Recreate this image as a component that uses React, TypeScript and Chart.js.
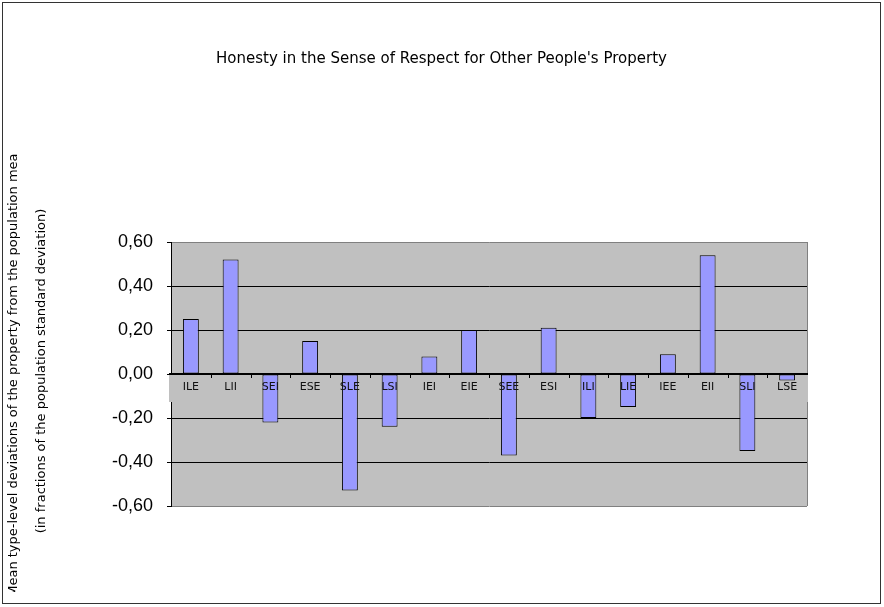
import React from "react";
import { Chart, ChartConfiguration, Plugin, registerables } from "chart.js";

Chart.register(...registerables);

const categories = [
  "ILE", "LII", "SEI", "ESE", "SLE", "LSI", "IEI", "EIE",
  "SEE", "ESI", "ILI", "LIE", "IEE", "EII", "SLI", "LSE",
];
const deviations = [
  0.25, 0.52, -0.22, 0.15, -0.53, -0.24, 0.08, 0.2,
  -0.37, 0.21, -0.2, -0.15, 0.09, 0.54, -0.35, -0.03,
];
const yTicks = [-0.6, -0.4, -0.2, 0, 0.2, 0.4, 0.6];

const chartTitle = "Honesty in the Sense of Respect for Other People's Property";
const yTitleLines = [
  "Mean type-level deviations of the property from the population mean",
  "(in fractions of the population standard deviation)",
];

const PLOT_BG = "#c0c0c0";
const FONT = '"DejaVu Sans", sans-serif';

const decorPlugin: Plugin<"bar"> = {
  id: "decor",
  beforeDraw(chart) {
    const { ctx, chartArea } = chart;
    ctx.save();
    ctx.fillStyle = PLOT_BG;
    ctx.fillRect(
      chartArea.left,
      chartArea.top,
      chartArea.right - chartArea.left,
      chartArea.bottom - chartArea.top
    );
    ctx.strokeStyle = "#333333";
    ctx.lineWidth = 1;
    ctx.strokeRect(2.5, 2.5, 878, 601);
    ctx.restore();
  },
  beforeDatasetsDraw(chart) {
    const { ctx, chartArea, scales } = chart;
    const zero = Math.round(scales.y.getPixelForValue(0));
    ctx.save();
    // right border of the plot
    ctx.strokeStyle = "#808080";
    ctx.lineWidth = 1;
    ctx.beginPath();
    ctx.moveTo(chartArea.right + 0.5, chartArea.top);
    ctx.lineTo(chartArea.right + 0.5, chartArea.bottom);
    ctx.stroke();
    // box behind the category labels
    ctx.fillStyle = PLOT_BG;
    ctx.fillRect(chartArea.left - 2, zero + 1, chartArea.right - chartArea.left + 3, 27);
    ctx.restore();
  },
  afterDatasetsDraw(chart) {
    const { ctx, chartArea, scales } = chart;
    const x = scales.x;
    const zero = Math.round(scales.y.getPixelForValue(0));
    ctx.save();
    ctx.strokeStyle = "#000000";
    ctx.lineWidth = 2;
    ctx.beginPath();
    ctx.moveTo(chartArea.left - 2, zero);
    ctx.lineTo(chartArea.right + 1, zero);
    ctx.stroke();

    const step = (chartArea.right - chartArea.left) / categories.length;
    ctx.lineWidth = 1;
    ctx.beginPath();
    for (let i = 1; i < categories.length; i++) {
      const px = Math.round(chartArea.left + i * step) + 0.5;
      ctx.moveTo(px, zero + 1);
      ctx.lineTo(px, zero + 4);
    }
    ctx.stroke();

    ctx.fillStyle = "#111111";
    ctx.font = `11px ${FONT}`;
    ctx.textAlign = "center";
    ctx.textBaseline = "middle";
    categories.forEach((c, i) => {
      ctx.fillText(c, x.getPixelForValue(i), zero + 13);
    });
    ctx.restore();
  },
  afterDraw(chart) {
    const { ctx } = chart;
    ctx.save();
    ctx.fillStyle = "#000000";
    ctx.font = `15px ${FONT}`;
    ctx.textAlign = "center";
    ctx.textBaseline = "middle";
    ctx.fillText(chartTitle, 441.5, 59);

    ctx.font = `13px ${FONT}`;
    ctx.beginPath();
    ctx.rect(0, 153, 60, 439);
    ctx.clip();
    ctx.translate(0, 371);
    ctx.rotate(-Math.PI / 2);
    ctx.fillText(yTitleLines[0], 0, 14);
    ctx.fillText(yTitleLines[1], 0, 42);
    ctx.restore();
  },
};

const App: React.FC = () => {
  const canvasRef = React.useRef<HTMLCanvasElement | null>(null);
  const chartRef = React.useRef<Chart<"bar"> | null>(null);

  React.useEffect(() => {
    const canvas = canvasRef.current;
    if (!canvas) return;
    chartRef.current?.destroy();

    const config: ChartConfiguration<"bar"> = {
      type: "bar",
      data: {
        labels: categories,
        datasets: [
          {
            data: deviations,
            backgroundColor: "#9999ff",
            borderColor: "#000000",
            borderWidth: 1,
            borderSkipped: false,
            barPercentage: 0.4,
            categoryPercentage: 1,
          },
        ],
      },
      options: {
        animation: false,
        responsive: true,
        maintainAspectRatio: false,
        layout: { padding: { left: 60, top: 242, right: 77, bottom: 101 } },
        plugins: {
          legend: { display: false },
          title: { display: false },
          tooltip: { enabled: false },
        },
        scales: {
          x: { display: false },
          y: {
            min: yTicks[0],
            max: yTicks[yTicks.length - 1],
            afterFit: (scale) => {
              scale.width = 111;
            },
            afterBuildTicks: (scale) => {
              scale.ticks = yTicks.map((v) => ({ value: v }));
            },
            border: { display: true, color: "#000000", width: 1 },
            grid: {
              color: (c) => {
                const v = c.tick ? c.tick.value : 0;
                if (Math.abs(Math.abs(v) - 0.6) < 1e-6) return "#808080";
                if (Math.abs(v) < 1e-6) return "rgba(0,0,0,0)";
                return "#000000";
              },
              tickColor: "#000000",
              tickLength: 4,
              lineWidth: 1,
            },
            ticks: {
              color: "#000000",
              padding: 14,
              font: { family: '"Liberation Sans", Arial, sans-serif', size: 18 },
              callback: (v) => Number(v).toFixed(2).replace(".", ","),
            },
          },
        },
      },
      plugins: [decorPlugin],
    };

    chartRef.current = new Chart(canvas, config);
    return () => {
      chartRef.current?.destroy();
      chartRef.current = null;
    };
  }, []);

  return (
    <div style={{ position: "absolute", left: 0, top: 0, width: 884, height: 607, background: "#ffffff" }}>
      <canvas ref={canvasRef} />
    </div>
  );
};

export default App;
